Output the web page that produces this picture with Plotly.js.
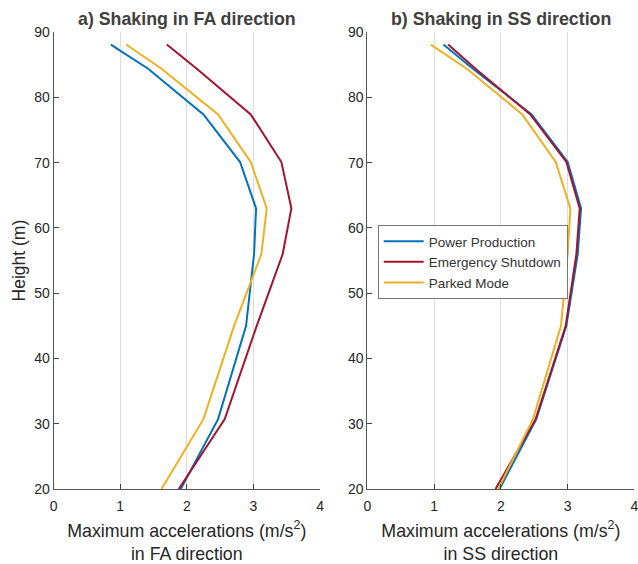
<!DOCTYPE html>
<html><head><meta charset="utf-8">
<script src="https://cdn.plot.ly/plotly-3.0.1.min.js"></script>
<style>body{margin:0;padding:0;}#chart{width:638px;height:564px;}</style>
</head><body><div id="chart"></div>
<script>
const heights = [20, 30.7, 45, 56, 63, 70.1, 77.4, 84.4, 88.1];
// FA direction
const faPower     = [1.91, 2.47, 2.89, 3.01, 3.04, 2.80, 2.25, 1.42, 0.86];
const faEmergency = [1.88, 2.57, 3.05, 3.44, 3.57, 3.42, 2.96, 2.15, 1.70];
const faParked    = [1.62, 2.25, 2.71, 3.12, 3.20, 2.96, 2.47, 1.62, 1.09];
// SS direction
const ssPower     = [1.98, 2.53, 2.98, 3.15, 3.20, 3.00, 2.46, 1.58, 1.14];
const ssEmergency = [1.92, 2.52, 2.97, 3.13, 3.18, 2.98, 2.44, 1.62, 1.21];
const ssParked    = [1.96, 2.48, 2.90, 3.00, 3.04, 2.82, 2.32, 1.49, 0.95];
const seriesNames = ["Power Production", "Emergency Shutdown", "Parked Mode"];
const panelTitles = ["a) Shaking in FA direction", "b) Shaking in SS direction"];
const xTitles = ["Maximum accelerations (m/s<sup>2</sup>)<br>in FA direction", "Maximum accelerations (m/s<sup>2</sup>)<br>in SS direction"];
const xTicks = [0, 1, 2, 3, 4];
const yTicks = [20, 30, 40, 50, 60, 70, 80, 90];

const colors = ["#0072BD", "#A2142F", "#EDB120"];
const font = "Liberation Sans, Arial, sans-serif";

function tr(x, name, i, xa, ya, show) {
  return {x: x, y: heights, mode: "lines", name: name, xaxis: xa, yaxis: ya,
    showlegend: show, line: {color: colors[i], width: 2}};
}
const data = [
  tr(faPower, seriesNames[0], 0, "x", "y", false),
  tr(faEmergency, seriesNames[1], 1, "x", "y", false),
  tr(faParked, seriesNames[2], 2, "x", "y", false),
  tr(ssPower, seriesNames[0], 0, "x2", "y2", true),
  tr(ssEmergency, seriesNames[1], 1, "x2", "y2", true),
  tr(ssParked, seriesNames[2], 2, "x2", "y2", true)
];

function xax(dom, title) {
  return {domain: dom, range: [0, 4], tickvals: xTicks, ticks: "inside", ticklen: 5,
    tickcolor: "#444", showline: true, linecolor: "#555", linewidth: 1, mirror: false,
    showgrid: true, gridcolor: "#dcdcdc", gridwidth: 1, zeroline: false,
    ticklabeloverflow: "allow", ticklabelstandoff: 4,
    tickfont: {family: font, size: 14, color: "#262626"},
    title: {text: title, font: {family: font, size: 17.8, color: "#262626"}, standoff: 19}};
}
function yax(dom, anchor, title) {
  return {domain: dom, range: [20, 90], tickvals: yTicks, ticks: "inside", ticklen: 5,
    tickcolor: "#444", showline: true, linecolor: "#555", linewidth: 1, anchor: anchor,
    showgrid: false, zeroline: false, ticklabeloverflow: "allow",
    tickfont: {family: font, size: 14, color: "#262626"},
    title: title ? {text: title, font: {family: font, size: 17.5, color: "#262626"}, standoff: 4} : {text: ""}};
}
const yd = [0.133, 0.943];
const layout = {
  width: 638, height: 564, margin: {l: 0, r: 0, t: 0, b: 0},
  paper_bgcolor: "#ffffff", plot_bgcolor: "#ffffff",
  xaxis: xax([0.0839, 0.5016], xTitles[0]),
  yaxis: yax(yd, "x", "Height (m)"),
  xaxis2: xax([0.5757, 0.9945], xTitles[1]),
  yaxis2: yax(yd, "x2", null),
  showlegend: true,
  legend: {x: 0.592, y: 0.601, xanchor: "left", yanchor: "top", bgcolor: "#ffffff",
    bordercolor: "#777", borderwidth: 1, font: {family: font, size: 13.5, color: "#333"},
    tracegroupgap: 0, itemwidth: 40},
  annotations: [
    {text: "<b>" + panelTitles[0] + "</b>", xref: "paper", yref: "paper", x: 0.293, y: 0.966,
      xanchor: "center", yanchor: "middle", showarrow: false, font: {family: font, size: 17.8, color: "#404040"}},
    {text: "<b>" + panelTitles[1] + "</b>", xref: "paper", yref: "paper", x: 0.785, y: 0.966,
      xanchor: "center", yanchor: "middle", showarrow: false, font: {family: font, size: 17.8, color: "#404040"}}
  ]
};
Plotly.newPlot("chart", data, layout, {displayModeBar: false, staticPlot: true});
</script></body></html>
